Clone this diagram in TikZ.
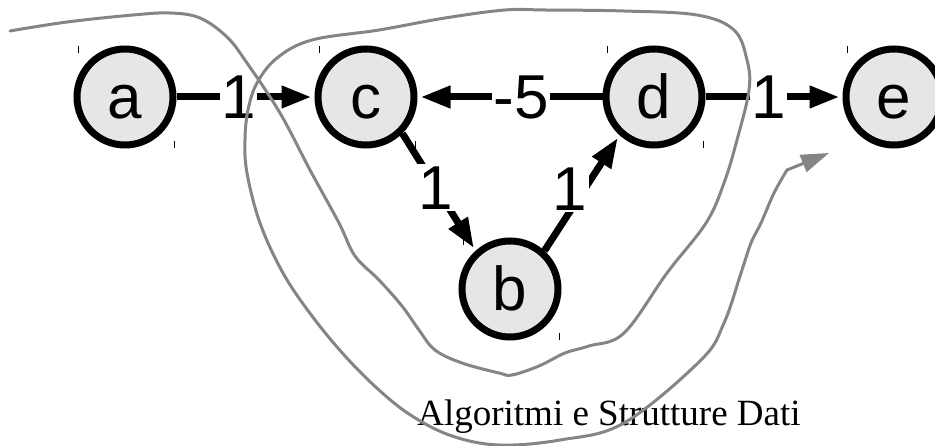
\documentclass[tikz,border=0pt]{standalone}
\usepackage{fontspec}
\setmainfont{Liberation Sans}
\newfontfamily\captionfont{Liberation Serif}
\usetikzlibrary{arrows.meta}
\definecolor{ink}{HTML}{000000}
\definecolor{nodegray}{HTML}{E6E6E6}
\definecolor{pencil}{HTML}{858585}

\begin{document}
\begin{tikzpicture}[x=1pt,y=-1pt,
        v/.style={circle,draw=ink,fill=nodegray,line width=7pt,minimum size=96pt,inner sep=0pt,
          font=\fontsize{62}{62}\selectfont,text height=44pt,text depth=0pt},
        e/.style={ink,line width=7pt,-{Triangle[length=30pt,width=21pt]},shorten >=3pt},
        wt/.style={fill=white,inner sep=1.5pt,font=\fontsize{62}{62}\selectfont,text height=44pt,text depth=0pt},
        tick/.style={ink,line width=0.8pt},
        loopy/.style={pencil,line width=3pt,line cap=round,-{Triangle[length=28pt,width=18pt]}}]
        \useasboundingbox (0,0) rectangle (935,446);
        \node[v] (a) at (125,97) {a};
        \node[v] (c) at (366,97) {c};
        \node[v] (d) at (654,97) {d};
        \node[v] (e) at (894,97) {e};
        \node[v] (b) at (510,289) {b};
        \foreach \n in {a,c,d,e,b} {
          \draw[tick] ([shift={(-47,-51)}]\n.center) -- ++(0,7);
          \draw[tick] ([shift={(49,44)}]\n.center) -- ++(0,7);
        }
        \foreach \u/\w/\l/\p in {a/c/1/.45,d/c/-5/.44,d/e/1/.46}
          \draw[e] (\u) -- node[wt,pos=\p] (w\u\w) {\l} (\w);
        \draw[e] (c.-45) -- node[wt,pos=.46] (wcb) {1} (b.132);
        \draw[e] (b.48) -- node[wt,pos=.54,xshift=-15pt] (wbd) {1} (d.-132);
        \node[font=\captionfont\fontsize{37}{37}\selectfont,anchor=base] (title) at (609,425) {Algoritmi e Strutture Dati};
        \draw[loopy] plot[smooth,tension=.6] coordinates {(10,31) (67,22) (133,15) (170,13) (200,18)
          (227,37) (247,63) (280,113) (310,170) (339,223) (355,256) (379,280) (402,306) (419,330)
          (435,350) (462,363) (499,373) (512,375) (539,366) (565,353) (589,346) (624,333) (667,273)
          (706,223) (724,183) (737,140) (749,90) (747,60) (734,30) (697,15) (624,11) (545,10)
          (505,10) (445,18) (379,30) (312,40) (277,58) (257,83) (248,110) (245,140) (247,173)
          (260,223) (283,273) (312,316) (345,356) (379,390) (412,416) (452,436) (499,445) (560,440)
          (624,423) (701,360) (724,323) (741,273) (751,243) (761,223) (774,193) (787,170)} -- (829,153);
      \end{tikzpicture}
\end{document}
